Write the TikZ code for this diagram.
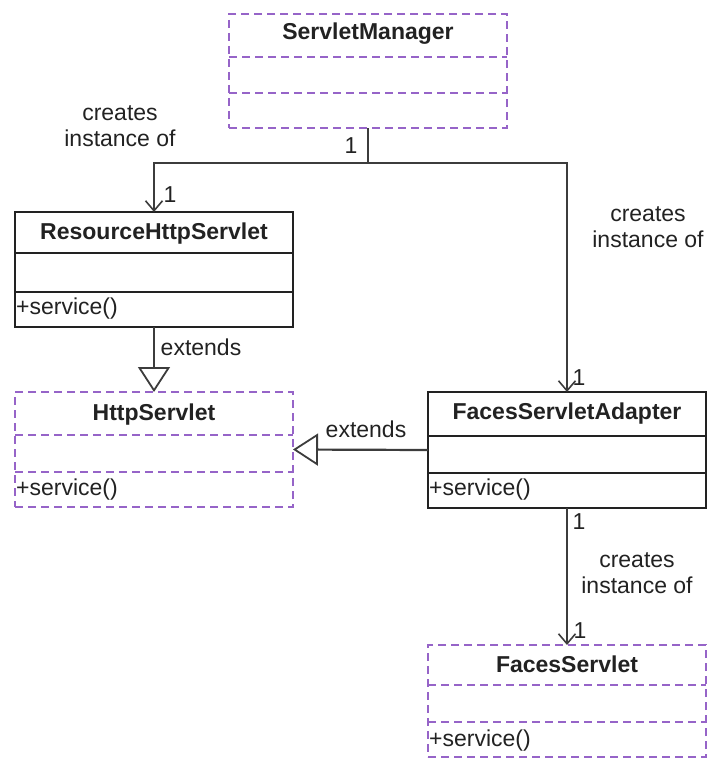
\documentclass[tikz,border=0pt]{standalone}
\usepackage{fontspec}
\setmainfont{Liberation Sans}
\usetikzlibrary{arrows.meta}
\definecolor{ink}{RGB}{34,34,34}
\definecolor{edge}{RGB}{60,60,60}
\definecolor{iface}{RGB}{150,100,200}
\tikzset{
  classbox/.style={draw=ink, line width=2pt, fill=white, inner sep=0pt, outer sep=0pt,
    minimum width=278pt},
  abstractbox/.style={classbox, draw=iface, line width=2.2pt, dash pattern=on 8pt off 5pt},
  divider/.style={draw=ink, line width=1.8pt},
  absdivider/.style={draw=iface, line width=2pt, dash pattern=on 8pt off 5pt},
  title/.style={font=\fontsize{23}{26}\selectfont\bfseries, text=ink, anchor=base, inner sep=0pt},
  method/.style={font=\fontsize{23}{26}\selectfont, text=ink, anchor=base west, inner sep=0pt},
  lbl/.style={font=\fontsize{23}{26}\selectfont, text=ink, align=center, inner sep=0pt},
  mult/.style={font=\fontsize{23}{26}\selectfont, text=ink, inner sep=0pt},
  assoc/.style={draw=edge, line width=2pt, -{Straight Barb[length=10pt,width=17pt,line width=1.6pt]}},
  inherit/.style={draw=edge, line width=2.2pt, -{Triangle[open,length=25pt,width=32pt,line width=1.8pt,fill=white]}}
}
\begin{document}
\begin{tikzpicture}[x=1pt,y=-1pt]
\useasboundingbox (0,0) rectangle (707,760);

% ServletManager (abstract style)
\node[abstractbox, minimum height=114pt] (SM) at (368,71) {};
\draw[absdivider] (229,57) -- (507,57) (229,93) -- (507,93);
\node[title] (SMt) at (368,40) {ServletManager};

% ResourceHttpServlet
\node[classbox, minimum height=115pt] (RHS) at (154,269.5) {};
\draw[divider] (15,253) -- (293,253) (15,292) -- (293,292);
\node[title] (RHSt) at (154,239) {ResourceHttpServlet};
\node[method] (RHSm) at (16,314) {+service()};

% HttpServlet
\node[abstractbox, minimum height=115pt] (HS) at (154,449.5) {};
\draw[absdivider] (15,435) -- (293,435) (15,472) -- (293,472);
\node[title] (HSt) at (154,420) {HttpServlet};
\node[method] (HSm) at (16,495) {+service()};

% FacesServletAdapter
\node[classbox, minimum height=116pt] (FSA) at (567,450) {};
\draw[divider] (428,436) -- (706,436) (428,473) -- (706,473);
\node[title] (FSAt) at (567,419) {FacesServletAdapter};
\node[method] (FSAm) at (429,495) {+service()};

% FacesServlet
\node[abstractbox, minimum height=112pt] (FS) at (567,701) {};
\draw[absdivider] (428,685) -- (706,685) (428,722) -- (706,722);
\node[title] (FSt) at (567,672) {FacesServlet};
\node[method] (FSm) at (429,746) {+service()};

% associations
\draw[assoc] (SM.south) -- ++(0,35) -| (RHS.north);
\draw[assoc] (SM.south) -- ++(0,35) -| (FSA.north);
\draw[assoc] (FSA.south) -- (FS.north);

% generalisations
\draw[inherit] (RHS.south) -- (HS.north);
\draw[inherit] (FSA.west) -- (HS.east);

% labels
\node[lbl] (l1) at (120,126) {creates\\instance of};
\node[lbl] (l2) at (648,227) {creates\\instance of};
\node[lbl] (l3) at (637,573) {creates\\instance of};
\node[lbl] (e1) at (201,347) {extends};
\node[lbl] (e2) at (366,429) {extends};
\node[mult] (m1) at (351,146) {1};
\node[mult] (m2) at (170,195) {1};
\node[mult] (m3) at (579,378) {1};
\node[mult] (m4) at (579,522) {1};
\node[mult] (m5) at (580,631) {1};
\end{tikzpicture}
\end{document}
